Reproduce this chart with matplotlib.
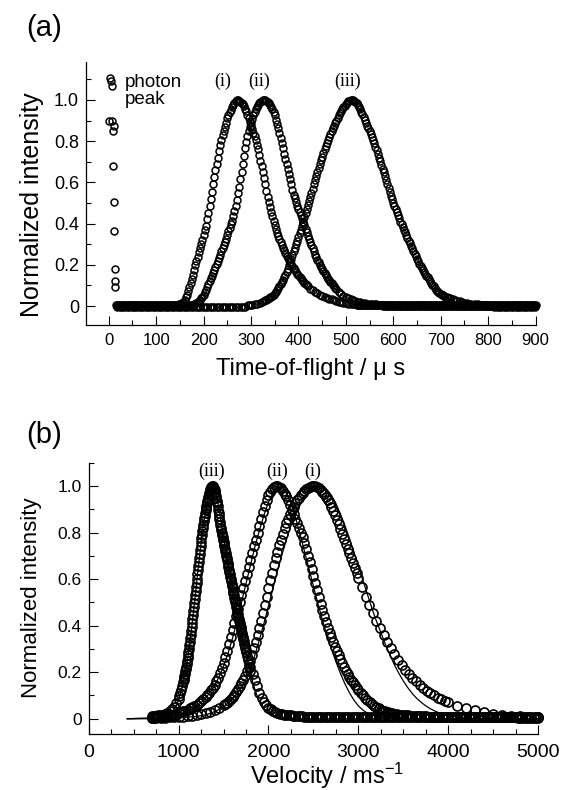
import numpy as np
import matplotlib
matplotlib.use("Agg")
import matplotlib.pyplot as plt
from matplotlib.ticker import MultipleLocator, FixedLocator, FixedFormatter

plt.rcParams['font.family'] = ['Liberation Sans', 'DejaVu Sans']
plt.rcParams['mathtext.fontset'] = 'custom'
plt.rcParams['mathtext.rm'] = 'Liberation Sans'
plt.rcParams['mathtext.it'] = 'Liberation Sans:italic'

# ---------------- panel (a): time-of-flight spectra ----------------
# photon peak near t = 0
t_photon = [2, 4, 6, 1, 6, 10, 8, 8, 10, 11, 13, 13, 13]
I_photon = [1.105, 1.09, 1.07, 0.90, 0.90, 0.875, 0.85, 0.68, 0.505, 0.365, 0.18, 0.12, 0.09]

# curve (i)
t_i = np.concatenate([np.arange(15, 140, 2.5), np.arange(140, 420, 2.5),
                      np.arange(420, 520, 5), np.arange(520, 901, 2.5)])
I_i = ([0.003] * 50
       + [0.004, 0.005, 0.006, 0.008, 0.01, 0.012, 0.015, 0.021, 0.03, 0.042,      # 140-162.5
          0.055, 0.072, 0.09, 0.11, 0.13, 0.152, 0.175, 0.197, 0.22, 0.24,         # 165-187.5
          0.26, 0.28, 0.30, 0.322, 0.345, 0.367, 0.39, 0.42, 0.45, 0.485,          # 190-212.5
          0.52, 0.555, 0.59, 0.625, 0.66, 0.69, 0.72, 0.75, 0.78, 0.805,           # 215-237.5
          0.83, 0.85, 0.87, 0.89, 0.91, 0.925, 0.94, 0.953, 0.965, 0.975,          # 240-262.5
          0.985, 0.993, 1.0, 0.998, 0.995, 0.99, 0.985, 0.978, 0.97, 0.958,        # 265-287.5
          0.945, 0.928, 0.91, 0.893, 0.875, 0.858, 0.84, 0.823, 0.805, 0.783,      # 290-312.5
          0.76, 0.733, 0.705, 0.678, 0.65, 0.62, 0.59, 0.56, 0.53, 0.505,          # 315-337.5
          0.48, 0.457, 0.435, 0.415, 0.395, 0.375, 0.355, 0.34, 0.325, 0.31,       # 340-362.5
          0.295, 0.282, 0.27, 0.257, 0.245, 0.235, 0.225, 0.215, 0.205, 0.195,     # 365-387.5
          0.185, 0.175, 0.165, 0.157, 0.15, 0.142, 0.135, 0.127, 0.12, 0.113,      # 390-412.5
          0.107, 0.101]                                                            # 415-417.5
       + [0.095, 0.085, 0.077, 0.07, 0.063, 0.056, 0.05, 0.045, 0.04, 0.036,
          0.032, 0.028, 0.025, 0.022, 0.019, 0.016, 0.014, 0.012, 0.01, 0.009]    # 420-515
       + [0.008, 0.007, 0.006, 0.005, 0.005, 0.004, 0.004] + [0.003] * 146)

# curve (ii)
t_ii = np.concatenate([np.arange(16.5, 168, 2.5), np.arange(170, 480, 2.5),
                       np.arange(480, 560, 5), np.arange(561.5, 901, 2.5)])
I_ii = ([-0.002] * 61
        + [0.004, 0.005, 0.006, 0.007, 0.009, 0.012, 0.015, 0.02, 0.025, 0.031,    # 170-192.5
           0.038, 0.046, 0.055, 0.067, 0.08, 0.092, 0.105, 0.12, 0.135, 0.147,     # 195-217.5
           0.16, 0.175, 0.19, 0.205, 0.22, 0.235, 0.25, 0.265, 0.28, 0.295,        # 220-242.5
           0.31, 0.327, 0.345, 0.362, 0.38, 0.397, 0.415, 0.437, 0.46, 0.485,      # 245-267.5
           0.515, 0.547, 0.58, 0.615, 0.65, 0.69, 0.728, 0.765, 0.795, 0.823,      # 270-292.5
           0.848, 0.87, 0.89, 0.908, 0.925, 0.94, 0.955, 0.965, 0.975, 0.983,      # 295-317.5
           0.99, 0.996, 1.0, 1.0, 1.0, 0.996, 0.99, 0.983, 0.975, 0.965,           # 320-342.5
           0.955, 0.94, 0.925, 0.905, 0.885, 0.863, 0.84, 0.815, 0.79, 0.765,      # 345-367.5
           0.74, 0.715, 0.69, 0.665, 0.64, 0.615, 0.59, 0.565, 0.54, 0.522,        # 370-392.5
           0.505, 0.487, 0.47, 0.455, 0.44, 0.425, 0.41, 0.392, 0.375, 0.357,      # 395-417.5
           0.34, 0.325, 0.31, 0.295, 0.28, 0.265, 0.25, 0.237, 0.225, 0.212,       # 420-442.5
           0.2, 0.19, 0.18, 0.17, 0.16, 0.15, 0.14, 0.132, 0.125, 0.117,           # 445-467.5
           0.11, 0.102, 0.095, 0.089]                                              # 470-477.5
        + [0.083, 0.07, 0.058, 0.05, 0.043, 0.037, 0.032, 0.028, 0.024, 0.021,
           0.018, 0.016, 0.014, 0.012, 0.011, 0.01]                                # 480-555
        + [0.009, 0.008, 0.007, 0.006, 0.005, 0.004, 0.003, 0.002, 0.001, 0.0]
        + [-0.002] * 126)

# curve (iii)
t_iii = np.concatenate([np.arange(18, 330, 5), np.arange(330, 720, 2.5),
                        np.arange(720, 770, 5), np.arange(773, 901, 5)])
I_iii = ([-0.006] * 55
         + [0.005, 0.006, 0.007, 0.009, 0.012, 0.015, 0.02, 0.026]                 # 293-328
         + [0.028, 0.031, 0.035, 0.038, 0.042, 0.046, 0.05, 0.056, 0.062, 0.069,   # 330-352.5
            0.077, 0.086, 0.095, 0.105, 0.115, 0.127, 0.14, 0.153, 0.167, 0.182,   # 355-377.5
            0.197, 0.213, 0.23, 0.247, 0.265, 0.282, 0.30, 0.317, 0.335, 0.352,    # 380-402.5
            0.37, 0.39, 0.41, 0.43, 0.45, 0.47, 0.49, 0.51, 0.53, 0.55,            # 405-427.5
            0.57, 0.59, 0.61, 0.63, 0.65, 0.67, 0.69, 0.707, 0.725, 0.742,         # 430-452.5
            0.76, 0.775, 0.79, 0.805, 0.82, 0.835, 0.85, 0.862, 0.875, 0.887,      # 455-477.5
            0.90, 0.912, 0.925, 0.935, 0.945, 0.955, 0.965, 0.972, 0.98, 0.987,    # 480-502.5
            0.993, 0.997, 1.0, 0.999, 0.998, 0.994, 0.99, 0.983, 0.975, 0.965,     # 505-527.5
            0.955, 0.943, 0.93, 0.918, 0.905, 0.89, 0.875, 0.862, 0.85, 0.835,     # 530-552.5
            0.82, 0.805, 0.79, 0.772, 0.755, 0.737, 0.72, 0.702, 0.685, 0.667,     # 555-577.5
            0.65, 0.63, 0.61, 0.592, 0.575, 0.555, 0.535, 0.517, 0.50, 0.485,      # 580-602.5
            0.47, 0.455, 0.44, 0.425, 0.41, 0.397, 0.385, 0.371, 0.357, 0.343,     # 605-627.5
            0.33, 0.317, 0.305, 0.292, 0.28, 0.267, 0.254, 0.241, 0.228, 0.217,    # 630-652.5
            0.206, 0.195, 0.185, 0.175, 0.166, 0.157, 0.148, 0.139, 0.13, 0.121,   # 655-677.5
            0.112, 0.103, 0.095, 0.087, 0.08, 0.075, 0.07, 0.065, 0.06, 0.056,     # 680-702.5
            0.053, 0.05, 0.046, 0.043, 0.041, 0.039]                               # 705-717.5
         + [0.037, 0.033, 0.03, 0.026, 0.023, 0.02, 0.017, 0.014, 0.012, 0.011]    # 720-765
         + [0.009, 0.008, 0.007, 0.005, 0.004, 0.002, 0.0, -0.002, -0.004, -0.005]
         + [-0.006] * 16)

# ---------------- panel (b): velocity distributions ----------------
# data (iii)
v_iii = np.concatenate([np.arange(700, 1000, 25), np.arange(1000, 1050, 10),
                        np.arange(1050, 1750, 5), np.arange(1750, 1810, 10),
                        np.arange(1825, 2510, 25), np.arange(2525, 5001, 25)])
D_iii = ([0.012, 0.012, 0.013, 0.014, 0.015, 0.017, 0.02, 0.024, 0.035, 0.042, 0.052, 0.066]
         + [0.085, 0.097, 0.11, 0.125, 0.14]                                         # 1000-1040
         + [0.157, 0.166, 0.175, 0.184, 0.193, 0.203, 0.213, 0.224, 0.236, 0.248,    # 1050-1095
            0.26, 0.273, 0.287, 0.301, 0.315, 0.33, 0.345, 0.361, 0.377, 0.393,      # 1100-1145
            0.41, 0.427, 0.445, 0.462, 0.48, 0.497, 0.515, 0.532, 0.55, 0.567,       # 1150-1195
            0.585, 0.602, 0.62, 0.637, 0.655, 0.672, 0.69, 0.707, 0.725, 0.742,      # 1200-1245
            0.76, 0.775, 0.79, 0.805, 0.82, 0.834, 0.848, 0.861, 0.873, 0.884,       # 1250-1295
            0.895, 0.905, 0.915, 0.925, 0.935, 0.944, 0.953, 0.961, 0.968, 0.974,    # 1300-1345
            0.98, 0.985, 0.99, 0.994, 0.997, 0.998, 0.998, 0.996, 0.993, 0.988,      # 1350-1395
            0.983, 0.976, 0.968, 0.958, 0.948, 0.937, 0.925, 0.912, 0.898, 0.884,    # 1400-1445
            0.87, 0.857, 0.845, 0.832, 0.82, 0.81, 0.80, 0.79, 0.78, 0.77,           # 1450-1495
            0.76, 0.75, 0.74, 0.73, 0.72, 0.71, 0.70, 0.69, 0.68, 0.67,              # 1500-1545
            0.66, 0.65, 0.64, 0.63, 0.62, 0.61, 0.60, 0.59, 0.58, 0.57,              # 1550-1595
            0.56, 0.55, 0.54, 0.53, 0.52, 0.51, 0.50, 0.491, 0.482, 0.473,           # 1600-1645
            0.465, 0.456, 0.448, 0.439, 0.43, 0.421, 0.413, 0.404, 0.395, 0.386,     # 1650-1695
            0.377, 0.368, 0.36, 0.351, 0.342, 0.332, 0.323, 0.314, 0.305, 0.296]     # 1700-1745
         + [0.288, 0.27, 0.253, 0.237, 0.222, 0.207]                                 # 1750-1800
         + [0.19, 0.165, 0.14, 0.11, 0.088, 0.07, 0.057, 0.047, 0.04, 0.034,
            0.029, 0.025, 0.022, 0.02, 0.018, 0.016, 0.015, 0.014, 0.013, 0.012,
            0.011, 0.01, 0.01, 0.009, 0.009, 0.008, 0.008, 0.008]                   # 1825-2500
         + [0.008] * 40 + [0.007] * 60)

# data (ii)
v_ii = np.concatenate([np.arange(700, 1310, 25), np.arange(1320, 3010, 20),
                       np.arange(3025, 3510, 25), np.arange(3525, 5001, 25)])
D_ii = ([0.005, 0.005, 0.006, 0.007, 0.008, 0.009, 0.01, 0.012, 0.014, 0.016,
         0.018, 0.021, 0.024, 0.027, 0.031, 0.035, 0.039, 0.044, 0.049, 0.055,
         0.061, 0.068, 0.076, 0.085, 0.095]
        + [0.103, 0.112, 0.122, 0.133, 0.145, 0.16, 0.177, 0.196, 0.217, 0.24,      # 1320-1500
           0.265, 0.292, 0.32, 0.35, 0.38, 0.41, 0.44, 0.47, 0.50, 0.53,            # 1520-1700
           0.56, 0.59, 0.62, 0.65, 0.68, 0.71, 0.74, 0.77, 0.80, 0.83,              # 1720-1900
           0.86, 0.89, 0.915, 0.94, 0.96, 0.975, 0.987, 0.995, 0.999, 1.0,          # 1920-2100
           0.997, 0.99, 0.98, 0.967, 0.955, 0.94, 0.92, 0.90, 0.88, 0.86,           # 2120-2300
           0.84, 0.82, 0.80, 0.78, 0.755, 0.73, 0.70, 0.675, 0.645, 0.615,          # 2320-2500
           0.585, 0.555, 0.525, 0.495, 0.465, 0.44, 0.415, 0.39, 0.37, 0.35,        # 2520-2700
           0.33, 0.31, 0.29, 0.272, 0.255, 0.238, 0.222, 0.207, 0.193, 0.18,        # 2720-2900
           0.168, 0.156, 0.145, 0.134, 0.124]                                       # 2920-3000
        + [0.112, 0.1, 0.09, 0.08, 0.071, 0.063, 0.056, 0.05, 0.044, 0.039,
           0.035, 0.031, 0.028, 0.025, 0.023, 0.021, 0.019, 0.017, 0.016, 0.015]    # 3025-3500
        + [0.014, 0.014, 0.013, 0.013, 0.012, 0.012, 0.011, 0.011, 0.010, 0.010]
        + [0.009] * 10 + [0.008] * 10 + [0.007] * 10 + [0.006] * 10 + [0.005] * 10)

# data (i)
v_i = np.concatenate([np.arange(700, 1510, 50), np.arange(1520, 2990, 20),
                      np.arange(3000, 3970, 40), np.arange(4000, 5001, 100)])
D_i = ([0.004, 0.004, 0.005, 0.005, 0.006, 0.007, 0.008, 0.009, 0.01, 0.012,
        0.015, 0.019, 0.024, 0.03, 0.038, 0.047, 0.058]
       + [0.063, 0.069, 0.076, 0.084, 0.093, 0.103, 0.114, 0.126, 0.139, 0.153,     # 1520-1700
          0.168, 0.185, 0.204, 0.224, 0.25, 0.275, 0.302, 0.33, 0.36, 0.39,         # 1720-1900
          0.42, 0.455, 0.49, 0.525, 0.56, 0.595, 0.628, 0.66, 0.69, 0.718,         # 1920-2100
          0.745, 0.77, 0.795, 0.818, 0.84, 0.86, 0.878, 0.895, 0.91, 0.925,        # 2120-2300
          0.938, 0.95, 0.96, 0.969, 0.977, 0.985, 0.991, 0.996, 0.999, 1.0,        # 2320-2500
          0.999, 0.996, 0.991, 0.984, 0.975, 0.965, 0.953, 0.94, 0.925, 0.909,     # 2520-2700
          0.892, 0.874, 0.855, 0.835, 0.815, 0.794, 0.773, 0.752, 0.731, 0.71,     # 2720-2900
          0.689, 0.668, 0.647, 0.626]                                              # 2920-2980
       + [0.605, 0.565, 0.525, 0.49, 0.455, 0.42, 0.39, 0.36, 0.33, 0.302,
          0.276, 0.252, 0.23, 0.21, 0.192, 0.175, 0.16, 0.146, 0.133, 0.121,
          0.11, 0.1, 0.091, 0.083, 0.076]                                          # 3000-3960
       + [0.07, 0.056, 0.045, 0.036, 0.028, 0.022, 0.017, 0.013, 0.01, 0.008, 0.006])

# fitted curves (solid lines)
vf_iii = np.concatenate([[430, 650, 800, 900], np.arange(950, 2250, 25), [2500, 5000]])
F_iii = ([0.0, 0.0, 0.005, 0.02, 0.04, 0.058]
         + [0.08, 0.115, 0.155, 0.2, 0.255, 0.325, 0.405, 0.49, 0.58, 0.67,
            0.755, 0.83, 0.89, 0.94, 0.975, 0.995, 0.99, 0.955, 0.90, 0.84,
            0.775, 0.72, 0.665, 0.61, 0.56, 0.51, 0.46, 0.415, 0.37, 0.325,
            0.28, 0.235, 0.195, 0.158, 0.125, 0.097, 0.073, 0.054, 0.04, 0.029,
            0.021, 0.015, 0.01, 0.007, 0.004, 0.002, 0.001, 0.0, 0.0, 0.0]
         + [0.0, 0.0])

vf_ii = np.concatenate([[430, 800, 1000], np.arange(1100, 3400, 50), [3600, 5000]])
F_ii = ([0.0, 0.004, 0.015]
        + [0.03, 0.04, 0.052, 0.068, 0.088, 0.113, 0.143, 0.18, 0.225, 0.28,
           0.345, 0.42, 0.5, 0.58, 0.66, 0.74, 0.81, 0.875, 0.93, 0.97,
           0.995, 0.995, 0.97, 0.925, 0.865, 0.795, 0.72, 0.645, 0.57, 0.495,
           0.425, 0.36, 0.3, 0.245, 0.195, 0.15, 0.112, 0.08, 0.055, 0.037,
           0.024, 0.015, 0.009, 0.005, 0.003, 0.001]
        + [0.0, 0.0])

vf_i = np.concatenate([[430, 1000], np.arange(1200, 4300, 50), [4600, 5000]])
F_i = ([0.0, 0.004]
       + [0.01, 0.013, 0.017, 0.023, 0.03, 0.04, 0.052, 0.067, 0.085, 0.107,
          0.135, 0.17, 0.22, 0.275, 0.34, 0.41, 0.485, 0.56, 0.635, 0.705,
          0.77, 0.83, 0.88, 0.92, 0.955, 0.978, 0.993, 1.0, 0.998, 0.985,
          0.96, 0.925, 0.88, 0.83, 0.775, 0.715, 0.655, 0.595, 0.535, 0.475,
          0.42, 0.37, 0.32, 0.275, 0.232, 0.195, 0.162, 0.133, 0.108, 0.087,
          0.07, 0.055, 0.043, 0.033, 0.025, 0.019, 0.014, 0.01, 0.007, 0.005,
          0.003, 0.002]
       + [0.0, 0.0])

yticks = [0, 0.2, 0.4, 0.6, 0.8, 1.0]
ytick_labels = ['0', '0.2', '0.4', '0.6', '0.8', '1.0']
tof_ticks = [0, 100, 200, 300, 400, 500, 600, 700, 800, 900]
vel_ticks = [0, 1000, 2000, 3000, 4000, 5000]


def style_axes(ax, xsize, ysize):
    for side in ['top', 'right']:
        ax.spines[side].set_visible(False)
    for side in ['left', 'bottom']:
        ax.spines[side].set_linewidth(0.9)
    ax.tick_params(which='both', direction='in', width=0.8)
    ax.tick_params(which='major', length=6.5)
    ax.tick_params(which='minor', length=3.5)
    ax.tick_params(axis='x', labelsize=xsize, pad=6)
    ax.tick_params(axis='y', labelsize=ysize, pad=5)
    ax.yaxis.set_major_locator(FixedLocator(yticks))
    ax.yaxis.set_major_formatter(FixedFormatter(ytick_labels))
    ax.yaxis.set_minor_locator(MultipleLocator(0.1))


fig = plt.figure(figsize=(5.61, 7.9), dpi=100)

# ---- (a)
ax1 = fig.add_axes([0.1533, 0.5886, 0.8021, 0.3329])
mk_a = dict(marker='o', ls='none', ms=5.0, mfc='none', mec='black', mew=1.1, clip_on=False)
ax1.plot(t_photon, I_photon, **mk_a)
ax1.plot(t_iii, I_iii, **mk_a)
ax1.plot(t_ii, I_ii, **mk_a)
ax1.plot(t_i, I_i, **mk_a)
ax1.set_xlim(-48, 901)
ax1.set_ylim(-0.092, 1.184)
style_axes(ax1, 12, 13)
ax1.xaxis.set_major_locator(FixedLocator(tof_ticks))
ax1.xaxis.set_minor_locator(MultipleLocator(50))
ax1.set_xlabel('Time-of-flight / \u03bc s', fontsize=17)
ax1.xaxis.set_label_coords(0.499, -0.167)
ax1.xaxis.label.set_va('center')
ax1.set_ylabel('Normalized intensity', fontsize=18)
ax1.yaxis.set_label_coords(-0.12, 0.456)
ax1.yaxis.label.set_va('center')

ax1.text(34, 1.087, 'photon', fontsize=13.5, va='center', ha='left')
ax1.text(34, 1.0, 'peak', fontsize=13.5, va='center', ha='left')
serif = ['Liberation Serif', 'DejaVu Serif']
ax1.text(240, 1.09, '(i)', family=serif, fontsize=13, ha='center', va='center')
ax1.text(318, 1.09, '(ii)', family=serif, fontsize=13, ha='center', va='center')
ax1.text(504, 1.09, '(iii)', family=serif, fontsize=13, ha='center', va='center')

# ---- (b)
ax2 = fig.add_axes([0.158, 0.0705, 0.8014, 0.3438])
mk_b = dict(marker='o', ls='none', ms=6.5, mfc='none', mec='black', mew=1.2, clip_on=False)
ax2.plot(v_iii, D_iii, **mk_b)
ax2.plot(v_ii, D_ii, **mk_b)
ax2.plot(v_i, D_i, **mk_b)
ax2.plot(vf_iii, F_iii, color='black', lw=0.9)
ax2.plot(vf_ii, F_ii, color='black', lw=0.9)
ax2.plot(vf_i, F_i, color='black', lw=0.9)
ax2.set_xlim(0, 5000)
ax2.set_ylim(-0.067, 1.10)
style_axes(ax2, 14, 12.5)
ax2.xaxis.set_major_locator(FixedLocator(vel_ticks))
ax2.xaxis.set_minor_locator(MultipleLocator(250))
ax2.tick_params(axis='x', pad=7)
ax2.set_xlabel('Velocity / ms$^{-1}$', fontsize=17)
ax2.xaxis.set_label_coords(0.53, -0.1535)
ax2.xaxis.label.set_va('center')
ax2.set_ylabel('Normalized intensity', fontsize=16)
ax2.yaxis.set_label_coords(-0.128, 0.502)
ax2.yaxis.label.set_va('center')

ax2.text(1371, 1.063, '(iii)', family=serif, fontsize=13, ha='center', va='center')
ax2.text(2093, 1.063, '(ii)', family=serif, fontsize=13, ha='center', va='center')
ax2.text(2497, 1.063, '(i)', family=serif, fontsize=13, ha='center', va='center')

fig.text(0.046, 0.964, '(a)', fontsize=21, ha='left', va='center')
fig.text(0.046, 0.449, '(b)', fontsize=21, ha='left', va='center')

fig.savefig('out.png', dpi=100)
